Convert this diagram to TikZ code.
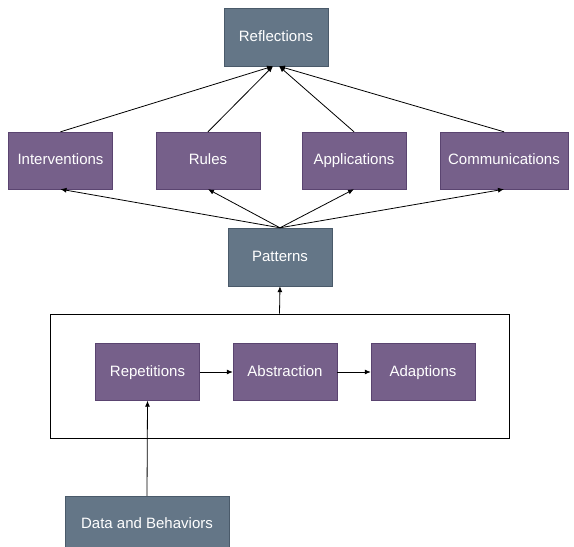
\documentclass[tikz,border=0pt]{standalone}
\usepackage{fontspec}
\setmainfont{Liberation Sans}
\usetikzlibrary{arrows.meta}
\definecolor{slate}{HTML}{647687}
\definecolor{slateline}{HTML}{4A5A6A}
\definecolor{plum}{HTML}{76608A}
\definecolor{plumline}{HTML}{5A4470}

\tikzset{
  greybox/.style={draw=slateline, fill=slate, text=white, minimum width=104pt,
    minimum height=58pt, text height=11pt, text depth=3pt, font=\fontsize{15}{18}\selectfont},
  plumbox/.style={draw=plumline, fill=plum, text=white, minimum width=104pt,
    minimum height=57pt, text height=11pt, text depth=3pt, font=\fontsize{15}{18}\selectfont},
  arr/.style={-{Latex[length=6pt,width=5pt]}, line width=0.8pt}
}

\begin{document}
\begin{tikzpicture}[x=1pt, y=-1pt]
    \useasboundingbox (0,0) rectangle (574,547);
    % top level
    \node[greybox] (reflections) at (276,37) {Reflections};
    \node[plumbox] (interventions) at (60.5,160.5) {Interventions};
    \node[plumbox] (rules) at (208,160.5) {Rules};
    \node[plumbox] (applications) at (354,160.5) {Applications};
    \node[plumbox, minimum width=128pt] (communications) at (504,160.5) {Communications};
    \node[greybox] (patterns) at (280,257) {Patterns};
    % inner group
    \node[draw, line width=0.8pt, minimum width=459pt, minimum height=124pt] (group) at (279.5,376) {};
    \node[plumbox] (repetitions) at (147.5,372) {Repetitions};
    \node[plumbox] (abstraction) at (285,372) {Abstraction};
    \node[plumbox] (adaptions) at (423,372) {Adaptions};
    \node[greybox, minimum width=164pt, minimum height=56pt] (data) at (147,524) {Data and Behaviors};

    \draw[arr] (interventions.north) -- ([xshift=-3pt]reflections.south);
    \draw[arr] (rules.north) -- ([xshift=-3pt]reflections.south);
    \draw[arr] (applications.north) -- ([xshift=3pt]reflections.south);
    \draw[arr] (communications.north) -- ([xshift=3pt]reflections.south);
    \foreach \n in {interventions,rules,applications,communications}
        \draw[arr] (patterns.north) -- (\n.south);
    \draw[arr] (group.north) -- (patterns.south);
    \draw[arr] (repetitions) -- (abstraction);
    \draw[arr] (abstraction) -- (adaptions);
    \draw[arr] (data.north) -- (repetitions.south);
\end{tikzpicture}
\end{document}
